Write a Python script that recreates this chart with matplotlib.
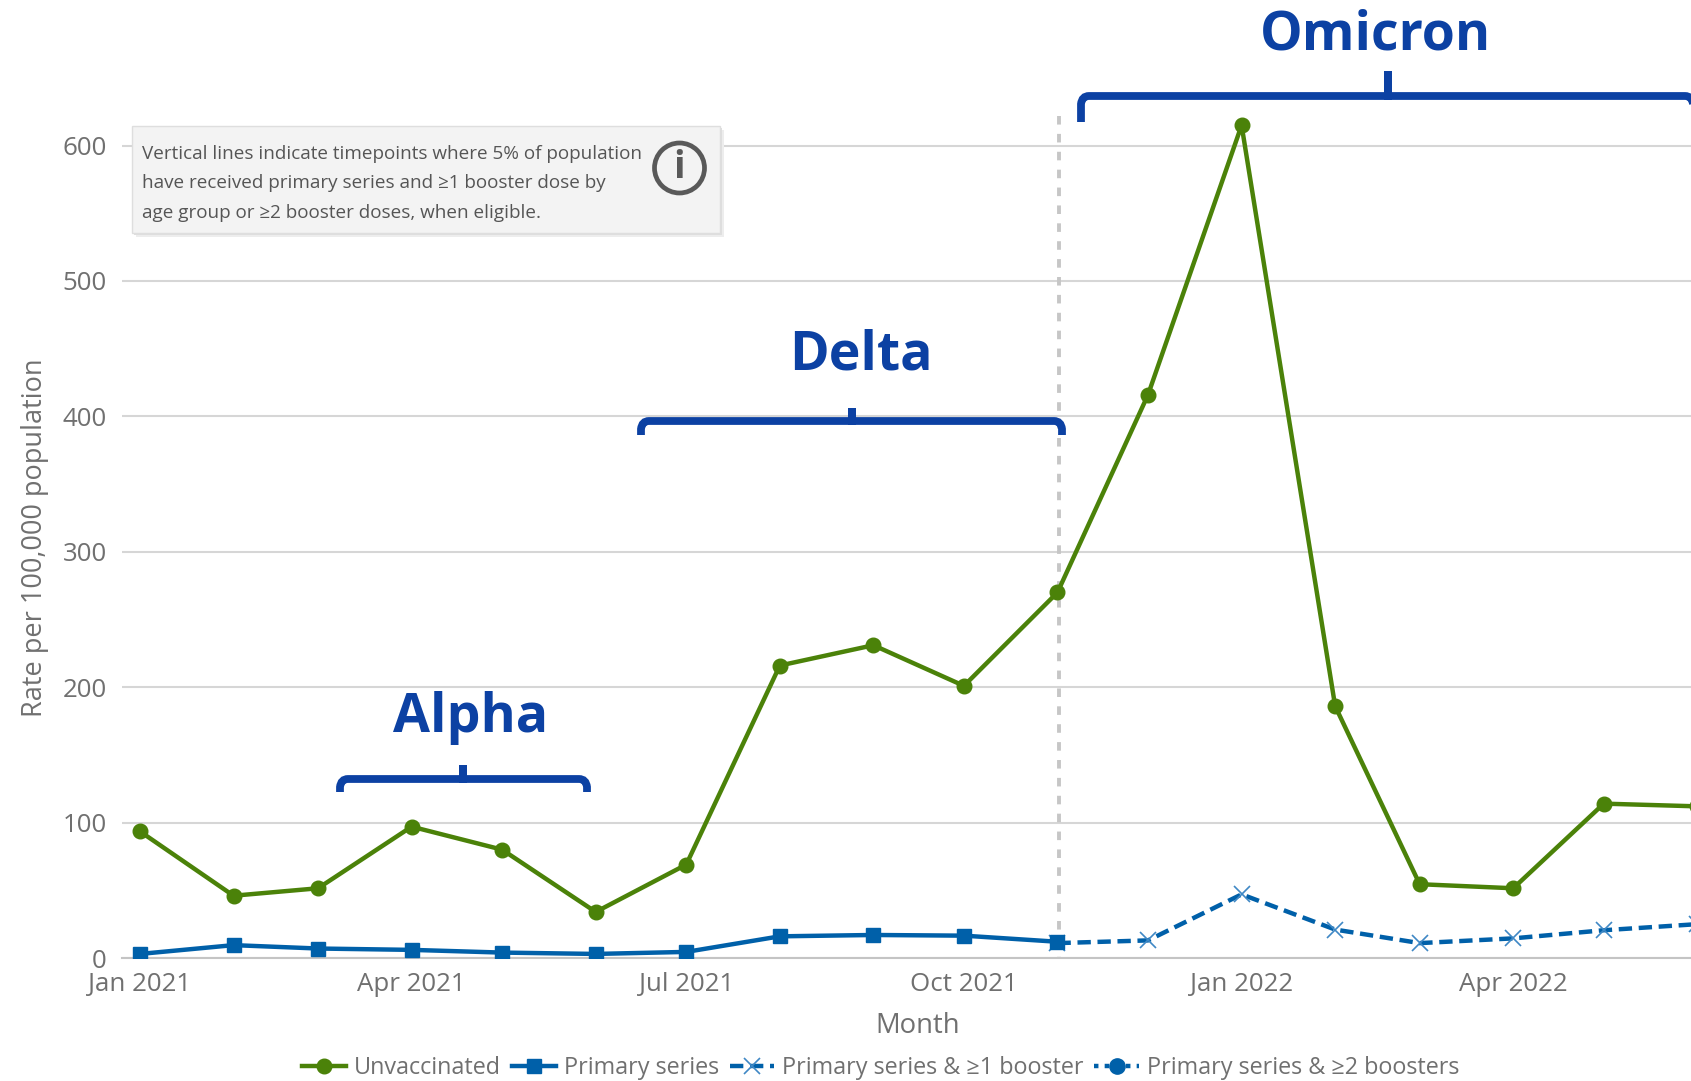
import datetime as dt
import matplotlib
matplotlib.use("Agg")
import matplotlib.pyplot as plt
import matplotlib.dates as mdates
from matplotlib.path import Path
from matplotlib.patches import PathPatch, Rectangle, Circle

plt.rcParams['font.family'] = ['Open Sans', 'DejaVu Sans']

W, H = 1691, 1081
months_all = [dt.date(2021 + (i // 12), i % 12 + 1, 1) for i in range(18)]

unvaccinated = [93.5, 46, 51.5, 97, 80, 34, 69, 216, 231, 201, 270, 416, 615, 186, 54.5, 51.5, 114, 112]
primary_months = months_all[:11]
primary = [3, 9.5, 7, 6, 4, 3, 4.5, 16, 17, 16.5, 12]
booster_months = months_all[10:]
booster1 = [11, 13, 47, 21, 11, 14.5, 20.5, 25]
booster2 = []

y_ticks = [0, 100, 200, 300, 400, 500, 600]
x_ticks = [dt.date(2021, 1, 1), dt.date(2021, 4, 1), dt.date(2021, 7, 1), dt.date(2021, 10, 1),
           dt.date(2022, 1, 1), dt.date(2022, 4, 1)]
x_labels = ['Jan 2021', 'Apr 2021', 'Jul 2021', 'Oct 2021', 'Jan 2022', 'Apr 2022']

GREEN = '#4b8209'
BLUE = '#0060a9'
XBLUE = '#3f88c5'
NAVY = '#0c41a3'
TXT = '#707070'

fig = plt.figure(figsize=(W / 100, H / 100), dpi=100, facecolor='white')
AX_L, AX_B = 122, 958
ax = fig.add_axes([AX_L / W, (H - AX_B) / H, (W - AX_L) / W, AX_B / H])
ax.set_facecolor('none')

x0 = mdates.date2num(dt.date(2021, 1, 1))
ax.set_xlim(x0 - 5.96, x0 + 513.9)
ax.set_ylim(0, 958 / 1.3540)

ax.set_yticks(y_ticks)
ax.set_xticks([mdates.date2num(d) for d in x_ticks])
ax.set_xticklabels(x_labels)
ax.grid(axis='y', color='#d6d6d6', lw=1.5, zorder=0)
ax.set_axisbelow(True)
for s in ['top', 'right', 'left']:
    ax.spines[s].set_visible(False)
ax.spines['bottom'].set_color('#c4c4c4')
ax.spines['bottom'].set_linewidth(1.5)
ax.tick_params(axis='both', length=0, labelsize=18.6, labelcolor=TXT)
ax.tick_params(axis='x', pad=10)
ax.tick_params(axis='y', pad=11)

# vertical marker line, drawn from the top so the dash pattern starts where the reference does
ax.plot([mdates.date2num(dt.date(2021, 11, 1)) + 0.4] * 2, [622, 0], color='#c6c6c6', lw=2.8,
        dashes=(2.2, 2.4), zorder=2)

l1, = ax.plot([mdates.date2num(d) for d in months_all], unvaccinated, color=GREEN, lw=3.2, marker='o', ms=10.5,
              label='Unvaccinated', zorder=4)
l3, = ax.plot([mdates.date2num(d) for d in booster_months], booster1, color=BLUE, lw=3.2, dashes=(3.0, 1.5),
              marker='x', ms=11, mew=1.2, mec=XBLUE, label='Primary series & ≥1 booster', zorder=5)
l2, = ax.plot([mdates.date2num(d) for d in primary_months], primary, color=BLUE, lw=3.2, marker='s', ms=10.5,
              label='Primary series', zorder=6)
l4, = ax.plot(booster2, [], color=BLUE, lw=3.2, dashes=(1, 1.4), marker='o', ms=11,
              label='Primary series & ≥2 boosters')

fig.text(35 / W, 1 - 538 / H, 'Rate per 100,000 population', rotation=90, color=TXT, fontsize=19.5,
         ha='center', va='center')
fig.text(918 / W, 1 - 1026 / H, 'Month', color=TXT, fontsize=19.8, ha='center', va='center')

fig.legend(handles=[l1, l2, l3, l4], loc='center', bbox_to_anchor=(880.5 / W, 1 - 1068 / H), ncols=4,
           frameon=False, fontsize=16.8, labelcolor=TXT, handlelength=1.9, handletextpad=0.35,
           columnspacing=0.45, borderpad=0, borderaxespad=0)


def P(x, y):
    return (x / W, 1 - y / H)


def bracket(xl, xr, xm, y, yend, ytop):
    r = 6
    verts = [P(xl, yend), P(xl, y + r + 2), P(xl + 1, y), P(xl + r + 2, y),
             P(xm - 3, y), P(xm, y), P(xm, ytop), P(xm, y), P(xm + 3, y),
             P(xr - r - 2, y), P(xr - 1, y), P(xr, y + r + 2), P(xr, yend)]
    codes = [Path.MOVETO, Path.LINETO, Path.CURVE3, Path.CURVE3,
             Path.LINETO, Path.LINETO, Path.LINETO, Path.LINETO, Path.LINETO,
             Path.LINETO, Path.CURVE3, Path.CURVE3, Path.LINETO]
    fig.add_artist(PathPatch(Path(verts, codes), fc='none', ec=NAVY, lw=5.6, transform=fig.transFigure,
                             capstyle='butt', joinstyle='miter', clip_on=False))


bracket(340, 587, 463, 779, 792, 765)
bracket(641, 1062, 852, 421, 435, 408)
bracket(1081, 1693, 1388, 96, 122, 71)

for label, cx, cy in [('Alpha', 471, 718), ('Delta', 861, 355), ('Omicron', 1375, 35)]:
    fig.text(cx / W, 1 - cy / H, label, color=NAVY, fontsize=38.6, fontweight='bold', ha='center', va='center')

# note box
bx0, by0, bx1, by1 = 132, 126, 720, 233
for off, col in [(4, '#ededed'), (2, '#dfdfdf')]:
    fig.add_artist(Rectangle(P(bx0 + off, by1 + off), (bx1 - bx0) / W, (by1 - by0) / H, fc=col, ec='none',
                             transform=fig.transFigure, zorder=7))
fig.add_artist(Rectangle(P(bx0, by1), (bx1 - bx0) / W, (by1 - by0) / H, fc='#f3f3f3', ec='#dedede', lw=1,
                         transform=fig.transFigure, zorder=8))
note = ['Vertical lines indicate timepoints where 5% of population',
        'have received primary series and ≥1 booster dose by',
        'age group or ≥2 booster doses, when eligible.']
for line, yy in zip(note, [154, 183, 213]):
    fig.text(142.5 / W, 1 - yy / H, line, color='#555555', fontsize=13.6, ha='left', va='center', zorder=9)
icon = Circle((679.5, H - 168), 25, fc='none', ec='#595959', lw=3.4, transform=None, zorder=9)
fig.add_artist(icon)
fig.text(679.5 / W, 1 - 168 / H, 'i', color='#595959', fontsize=27, fontweight='bold', ha='center', va='center',
         zorder=10)

fig.savefig('out.png', dpi=100)
